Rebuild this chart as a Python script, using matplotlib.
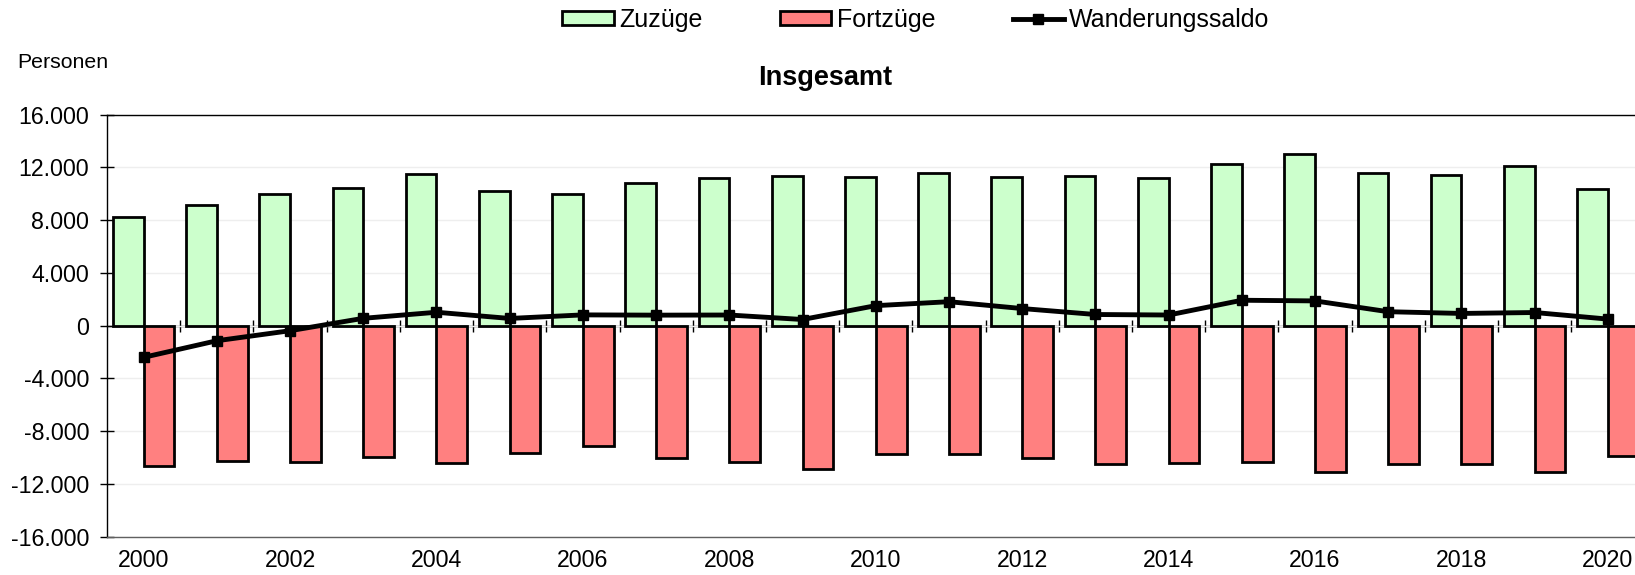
import numpy as np
import matplotlib
matplotlib.use("Agg")
import matplotlib.pyplot as plt

plt.rcParams['font.family'] = ['Liberation Sans', 'DejaVu Sans']

# Werte
jahre = list(range(2000, 2021))
zuzuege = [8260, 9130, 9980, 10440, 11470, 10210, 9960, 10840, 11170, 11320,
           11270, 11550, 11300, 11350, 11200, 12250, 13000, 11560, 11430, 12090, 10390]
fortzuege = [-10640, -10260, -10310, -9930, -10410, -9670, -9120, -10050, -10350, -10860,
             -9750, -9730, -10010, -10510, -10380, -10310, -11070, -10490, -10510, -11120, -9900]
saldo = [-2400, -1140, -380, 560, 1020, 550, 820, 800, 810, 470,
         1520, 1820, 1300, 850, 810, 1930, 1880, 1060, 930, 1000, 500]
yticks = list(range(-16000, 16001, 4000))

W, H = 1635, 575
fig = plt.figure(figsize=(W / 100, H / 100), dpi=100)
ax = fig.add_axes([107 / W, 1 - 536.7 / H, 1 - 107 / W, (536.7 - 114.7) / H])

x = np.arange(len(jahre))
bw = 0.42
b1 = ax.bar(x - bw / 2, zuzuege, bw, color='#CCFFCC', edgecolor='black', linewidth=2,
            label='Zuzüge', zorder=2)
b2 = ax.bar(x + bw / 2, fortzuege, bw, color='#FF8080', edgecolor='black', linewidth=2,
            label='Fortzüge', zorder=2)
l1, = ax.plot(x, saldo, color='black', lw=3.5, marker='s', ms=7.5, label='Wanderungssaldo',
              zorder=4)

ax.set_xlim(-0.5, 20.37)
ax.set_ylim(-16000, 16000)
ax.set_yticks(yticks)
ax.set_yticklabels([f"{v:,}".replace(',', '.') for v in yticks])
ax.set_xticks(x[::2])
ax.set_xticklabels([str(j) for j in jahre[::2]])

ax.tick_params(axis='y', direction='inout', length=9.5, width=1, pad=8, labelsize=16.7)
ax.tick_params(axis='x', length=0, pad=9, labelsize=16.7)

ax.yaxis.grid(True, color='#eeeeee', lw=1)
ax.set_axisbelow(True)

ax.spines['right'].set_visible(False)
ax.spines['top'].set_color('black')
ax.spines['left'].set_color('black')
ax.spines['bottom'].set_color('#606060')
for s in ['top', 'left', 'bottom']:
    ax.spines[s].set_linewidth(1)

# Nulllinie mit Kategorietrennstrichen
sec = ax.secondary_xaxis(0.5)
sec.set_xticks(x[:-1] + 0.5)
sec.xaxis.set_ticks_position('top')
sec.tick_params(direction='inout', length=8, width=1, labeltop=False, labelbottom=False,
                color='black')
for s in sec.spines.values():
    s.set_color('#202020')
    s.set_linewidth(1)

fig.text(17 / W, 1 - 62 / H, 'Personen', fontsize=15.3, ha='left', va='center')
fig.text(825 / W, 1 - 78 / H, 'Insgesamt', fontsize=19.5, fontweight='bold',
         ha='center', va='center')

fig.legend([b1, b2, l1], ['Zuzüge', 'Fortzüge', 'Wanderungssaldo'], loc='center',
           bbox_to_anchor=(916 / W, 1 - 20 / H), ncol=3,
           frameon=False, fontsize=18, handlelength=2.05, handleheight=0.45,
           handletextpad=0.22, columnspacing=3.1, borderpad=0, borderaxespad=0)

fig.savefig('out.png', dpi=100)
